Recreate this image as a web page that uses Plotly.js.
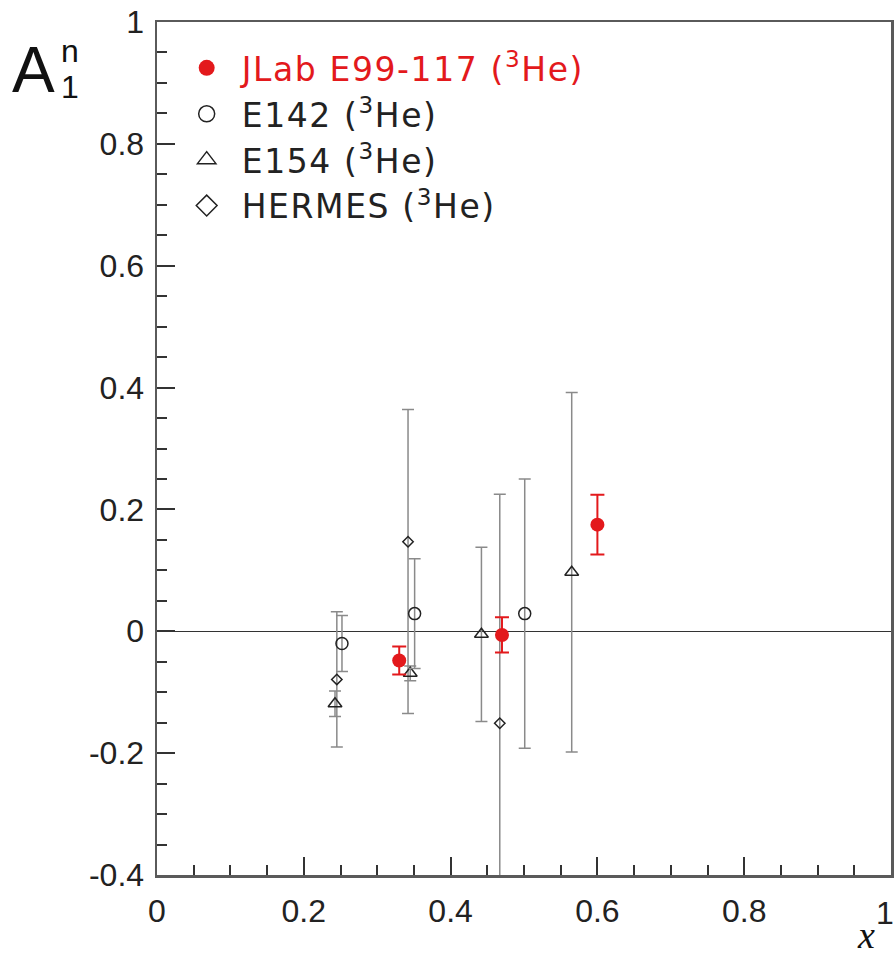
<!DOCTYPE html>
<html>
<head>
<meta charset="utf-8">
<script src="https://cdn.plot.ly/plotly-3.0.1.min.js"></script>
<style>html,body{margin:0;padding:0;background:#fff;}#plot{width:896px;height:955px;}
.legendtext{letter-spacing:1.6px;}</style>
</head>
<body>
<div id="plot"></div>
<script>
// JLab E99-117 (3He)
const jlabX = [0.33, 0.47, 0.60];
const jlabY = [-0.048, -0.006, 0.175];
const jlabErr = [0.023, 0.029, 0.049];

// E142 (3He)
const e142X = [0.252, 0.351, 0.501];
const e142Y = [-0.020, 0.029, 0.029];
const e142Err = [0.046, 0.090, 0.221];

// E154 (3He)
const e154X = [0.2425, 0.345, 0.442, 0.565];
const e154Y = [-0.119, -0.069, -0.005, 0.097];
const e154Err = [0.021, 0.012, 0.143, 0.295];

// HERMES (3He)
const hermesX = [0.245, 0.342, 0.467];
const hermesY = [-0.079, 0.147, -0.151];
const hermesErrPlus = [0.111, 0.217, 0.376];
const hermesErrMinus = [0.111, 0.282, 0.376];

// axis ticks (the label at x = 1 sits at the frame corner and is placed separately)
const xTickVals = [0, 0.2, 0.4, 0.6, 0.8, 1];
const xTickText = ['0', '0.2', '0.4', '0.6', '0.8', ''];
const xEndLabel = '1';
const yTickVals = [-0.4, -0.2, 0, 0.2, 0.4, 0.6, 0.8, 1];
const yTickText = ['-0.4', '-0.2', '0', '0.2', '0.4', '0.6', '0.8', '1'];

const RED = '#e3191c';
const GREY = '#8a8a8a';
const INK = '#222';

const traces = [
  {x: hermesX, y: hermesY, type: 'scatter', mode: 'markers', showlegend: false,
   marker: {symbol: 'diamond-open', size: 8, color: INK, line: {width: 1.5, color: INK}},
   error_y: {type: 'data', symmetric: false, array: hermesErrPlus, arrayminus: hermesErrMinus, color: GREY, thickness: 1.5, width: 6}},
  {x: e154X, y: e154Y, type: 'scatter', mode: 'markers', showlegend: false,
   marker: {symbol: 'triangle-up-open', size: 12, color: INK, line: {width: 1.5, color: INK}},
   error_y: {type: 'data', array: e154Err, color: GREY, thickness: 1.5, width: 6}},
  {x: e142X, y: e142Y, type: 'scatter', mode: 'markers', showlegend: false,
   marker: {symbol: 'circle-open', size: 12, color: INK, line: {width: 1.5, color: INK}},
   error_y: {type: 'data', array: e142Err, color: GREY, thickness: 1.5, width: 6}},
  {x: jlabX, y: jlabY, type: 'scatter', mode: 'markers', showlegend: false,
   marker: {symbol: 'circle', size: 14, color: RED},
   error_y: {type: 'data', array: jlabErr, color: RED, thickness: 2, width: 7}},
  // legend entries
  {x: [null], y: [null], type: 'scatter', mode: 'markers', legendgroup: 'a',
   name: '<span style="color:' + RED + '">JLab E99-117 (<sup>3</sup>He)</span>',
   marker: {symbol: 'circle', size: 18, color: RED}},
  {x: [null], y: [null], type: 'scatter', mode: 'markers', legendgroup: 'b',
   name: 'E142 (<sup>3</sup>He)',
   marker: {symbol: 'circle-open', size: 18, color: INK, line: {width: 1.5, color: INK}}},
  {x: [null], y: [null], type: 'scatter', mode: 'markers', legendgroup: 'c',
   name: 'E154 (<sup>3</sup>He)',
   marker: {symbol: 'triangle-up-open', size: 18, color: INK, line: {width: 1.5, color: INK}}},
  {x: [null], y: [null], type: 'scatter', mode: 'markers', legendgroup: 'd',
   name: 'HERMES (<sup>3</sup>He)',
   marker: {symbol: 'diamond-open', size: 18, color: INK, line: {width: 1.5, color: INK}}}
];

const layout = {
  width: 896, height: 955,
  margin: {l: 157, r: 5, t: 22, b: 80},
  paper_bgcolor: '#fff', plot_bgcolor: '#fff',
  font: {family: 'Liberation Sans, Arial, sans-serif', color: INK},
  showlegend: true,
  legend: {x: 0.02, y: 0.979, xanchor: 'left', yanchor: 'top', bgcolor: 'rgba(255,255,255,0)',
           borderwidth: 0, font: {size: 33, color: INK, family: 'DejaVu Sans, Liberation Sans, sans-serif'},
           itemwidth: 60, tracegroupgap: 0, itemsizing: 'trace'},
  xaxis: {range: [0, 1], showgrid: false, zeroline: false,
          showline: true, mirror: true, linecolor: '#5a5a5a', linewidth: 2.5,
          ticks: 'inside', ticklen: 18, tickwidth: 2, tickcolor: '#333',
          tickvals: xTickVals, ticktext: xTickText, tickfont: {size: 32, color: INK},
          ticklabelstandoff: 6,
          minor: {dtick: 0.05, ticks: 'inside', ticklen: 10, tickwidth: 2, tickcolor: '#333', showgrid: false}},
  yaxis: {range: [-0.4, 1], showgrid: false,
          zeroline: true, zerolinecolor: '#333', zerolinewidth: 1.5,
          showline: true, mirror: true, linecolor: '#5a5a5a', linewidth: 2.5,
          ticks: 'inside', ticklen: 18, tickwidth: 2, tickcolor: '#333',
          tickvals: yTickVals, ticktext: yTickText, tickfont: {size: 32, color: INK},
          ticklabelstandoff: 4, ticklabeloverflow: 'allow',
          minor: {dtick: 0.05, ticks: 'inside', ticklen: 10, tickwidth: 2, tickcolor: '#333', showgrid: false}},
  annotations: [
    {xref: 'paper', yref: 'paper', x: 1, y: -0.0445, xanchor: 'center', yanchor: 'middle', xshift: -6,
     text: xEndLabel, showarrow: false, font: {size: 32, color: INK, family: 'Liberation Sans, Arial, sans-serif'}},
    {xref: 'paper', yref: 'paper', x: -0.168, y: 0.944, xanchor: 'center', yanchor: 'middle',
     text: 'A', showarrow: false, font: {size: 64, color: '#111', family: 'Liberation Sans, Arial, sans-serif'}},
    {xref: 'paper', yref: 'paper', x: -0.118, y: 0.966, xanchor: 'center', yanchor: 'middle',
     text: 'n', showarrow: false, font: {size: 32, color: '#111', family: 'Liberation Sans, Arial, sans-serif'}},
    {xref: 'paper', yref: 'paper', x: -0.118, y: 0.924, xanchor: 'center', yanchor: 'middle',
     text: '1', showarrow: false, font: {size: 32, color: '#111', family: 'Liberation Sans, Arial, sans-serif'}},
    {xref: 'paper', yref: 'paper', x: 0.966, y: -0.07, xanchor: 'center', yanchor: 'middle',
     text: '<i>x</i>', showarrow: false, font: {size: 38, color: '#111', family: 'Liberation Serif, Times New Roman, serif'}}
  ]
};

Plotly.newPlot('plot', traces, layout, {staticPlot: true, displayModeBar: false});
</script>
</body>
</html>
